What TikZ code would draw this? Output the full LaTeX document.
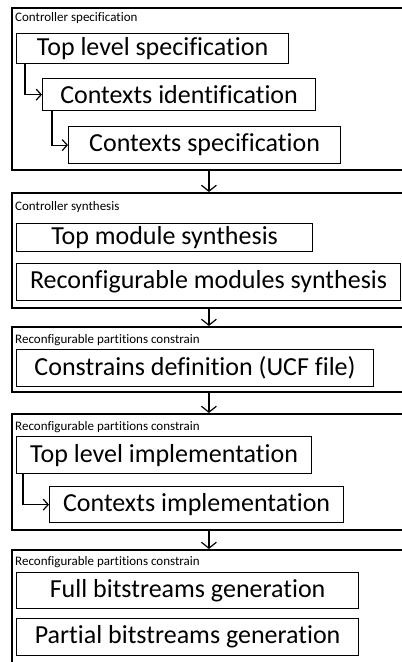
\documentclass[tikz,border=0pt]{standalone}
\usepackage{fontspec}
\setmainfont{Carlito}[Ligatures=NoCommon]
\usetikzlibrary{positioning,calc,arrows.meta}

\begin{document}
\begin{tikzpicture}[x=1pt,y=-1pt,
    stage/.style={draw, line width=1.8pt, anchor=north west, inner sep=0pt},
    task/.style={draw, line width=1.2pt, anchor=north west, inner sep=0pt, font=\fontsize{26}{30}\selectfont},
    title/.style={anchor=north west, inner sep=0pt, font=\fontsize{13}{15}\selectfont},
    flow/.style={line width=1.2pt, -{Straight Barb[length=5pt,width=11pt]}},
    pass/.style={line width=1.2pt, -{Straight Barb[length=6pt,width=15pt]}}]
    \useasboundingbox (0,0) rectangle (402,662);
    \clip (0,0) rectangle (402,662);

    % Controller specification
    \node [stage, minimum width=394pt, minimum height=162pt] (spec) at (11,7) {};
    \node [title] (spect) at (15,12) {Controller specification};
    \node [task, minimum width=272pt, minimum height=30pt] (toplvl) at (16,33) {Top level specification};
    \node [task, minimum width=273pt, minimum height=32pt] (ctxid) at (42,78) {Contexts identification};
    \node [task, minimum width=272pt, minimum height=37pt] (ctxspec) at (68,126) {Contexts specification};
    \draw [flow] ($(toplvl.south west)+(9,0)$) |- (ctxid.west);
    \draw [flow] ($(ctxid.south west)+(10,0)$) |- (ctxspec.west);

    % Controller synthesis
    \node [stage, minimum width=394pt, minimum height=115pt] (synth) at (11,192) {};
    \node [title] (syntht) at (15,201) {Controller synthesis};
    \node [task, minimum width=296pt, minimum height=28pt] (topsyn) at (16,223) {Top module synthesis};
    \node [task, minimum width=384pt, minimum height=37pt] (recsyn) at (16,263) {Reconfigurable modules synthesis};

    % Constrains
    \node [stage, minimum width=394pt, minimum height=65pt] (constr) at (11,326) {};
    \node [title] (constrt) at (15,334) {Reconfigurable partitions constrain};
    \node [task, minimum width=357pt, minimum height=37pt] (ucf) at (16,349) {Constrains definition (UCF file)};

    % Implementation
    \node [stage, minimum width=394pt, minimum height=116pt] (impl) at (11,413) {};
    \node [title] (implt) at (15,421) {Reconfigurable partitions constrain};
    \node [task, minimum width=295pt, minimum height=37pt] (toplvlimp) at (16,436) {Top level implementation};
    \node [task, minimum width=294pt, minimum height=36pt] (ctximp) at (49,486) {Contexts implementation};
    \draw [flow] ($(toplvlimp.south west)+(7,0)$) |- (ctximp.west);

    % Bitstreams
    \node [stage, minimum width=394pt, minimum height=130pt] (bits) at (11,549) {};
    \node [title] (bitst) at (15,556) {Reconfigurable partitions constrain};
    \node [task, minimum width=342pt, minimum height=36pt] (fullbit) at (16,572) {Full bitstreams generation};
    \node [task, minimum width=342pt, minimum height=37pt] (partbit) at (16,618) {Partial bitstreams generation};

    % stage to stage
    \draw [pass] (spec.south) -- (synth.north);
    \draw [pass] (synth.south) -- (constr.north);
    \draw [pass] (constr.south) -- (impl.north);
    \draw [pass] (impl.south) -- (bits.north);
\end{tikzpicture}
\end{document}
